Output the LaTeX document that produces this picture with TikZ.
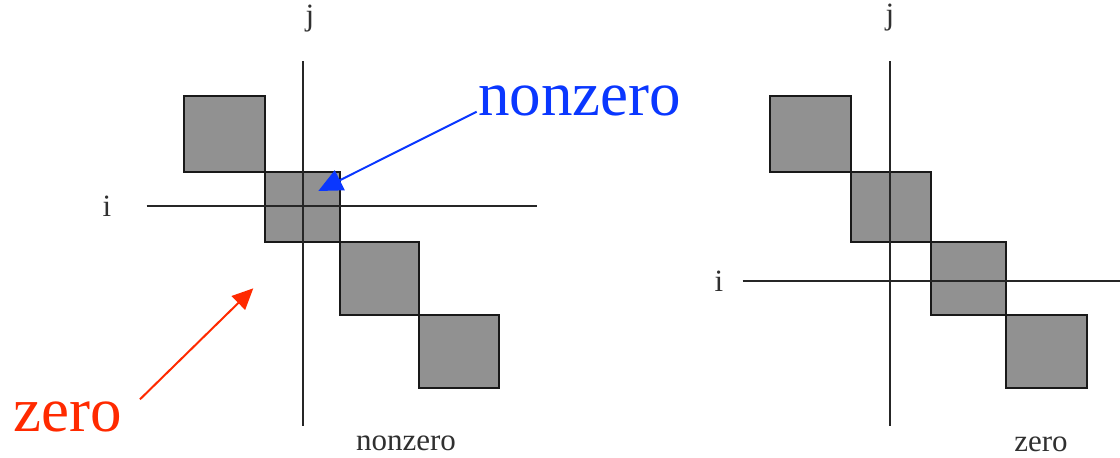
\documentclass[tikz,border=0pt]{standalone}
\usepackage{fontspec}
\setmainfont{Liberation Serif}
\usetikzlibrary{arrows.meta}
\definecolor{cellgray}{HTML}{919191}
\definecolor{callblue}{HTML}{0A37FF}
\definecolor{callred}{HTML}{FF2A00}
\definecolor{labelgray}{HTML}{303030}
\begin{document}
\begin{tikzpicture}[x=1pt,y=-1pt,
  axis/.style={line width=2pt,black!85},
  block/.style={draw=black!90,line width=2pt,fill=cellgray},
  small/.style={font=\fontsize{31}{31}\selectfont,text=labelgray,inner sep=0pt},
  big/.style={font=\fontsize{63}{63}\selectfont,inner sep=0pt},
  bluearrow/.style={draw=callblue,line width=2pt,-{Triangle[length=24pt,width=22pt]}},
  redarrow/.style={draw=callred,line width=2pt,-{Triangle[length=21pt,width=19pt]}},
]
\useasboundingbox (0,0) rectangle (1120,458);

% ---------- left matrix: element (i,j) inside the band ----------
\draw[block] (184,96) rectangle (264.7,171.7);
\draw[block] (264.7,171.7) rectangle (339.7,242.3);
\draw[block] (339.7,242.3) rectangle (419.3,315.3);
\draw[block] (419.3,315.3) rectangle (499.3,388.3);

\coordinate (jL-top) at (302.7,61);
\coordinate (jL-bot) at (302.7,426);
\coordinate (iL-left) at (146.7,205.7);
\coordinate (iL-right) at (536.7,205.7);
\draw[axis] (jL-top) -- (jL-bot);
\draw[axis] (iL-left) -- (iL-right);

\node[small] (jL) at (310,19) {j};
\node[small] (iL) at (107,206) {i};
\node[small] (capL) at (406,443) {nonzero};

% ---------- right matrix: element (i,j) outside the band ----------
\draw[block] (770.3,96) rectangle (851,171.7);
\draw[block] (851,171.7) rectangle (930.7,242.3);
\draw[block] (930.7,242.3) rectangle (1006,315);
\draw[block] (1006,315) rectangle (1086.7,388.3);

\coordinate (jR-top) at (889.7,61);
\coordinate (jR-bot) at (889.7,426);
\coordinate (iR-left) at (742.7,281);
\coordinate (iR-right) at (1120,281);
\draw[axis] (jR-top) -- (jR-bot);
\draw[axis] (iR-left) -- (iR-right);

\node[small] (jR) at (890,18) {j};
\node[small] (iR) at (719,281) {i};
\node[small] (capR) at (1041,444) {zero};

% ---------- callouts ----------
\node[big,text=callblue,anchor=base west] (nz) at (478,115) {nonzero};
\node[big,text=callred,anchor=base west] (zr) at (13,431.7) {zero};

\coordinate (nz-tail) at (476.7,111.7);
\coordinate (nz-tip) at (318.3,191);
\coordinate (zr-tail) at (140,399.3);
\coordinate (zr-tip) at (253.3,288.3);

\draw[bluearrow] (nz-tail) -- (nz-tip);
\draw[redarrow] (zr-tail) -- (zr-tip);
\end{tikzpicture}
\end{document}
